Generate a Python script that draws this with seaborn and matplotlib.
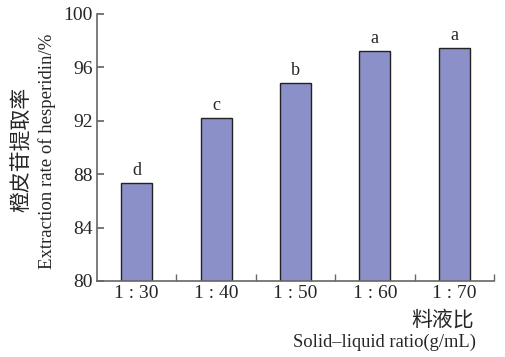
import matplotlib
matplotlib.use("Agg")
import matplotlib.pyplot as plt
import pandas as pd
import seaborn as sbn

# datos
ratios = ["1 : 30", "1 : 40", "1 : 50", "1 : 60", "1 : 70"]
tasa = [87.3, 92.2, 94.8, 97.2, 97.45]
letras = ["d", "c", "b", "a", "a"]
yticks = [80, 84, 88, 92, 96, 100]

df = pd.DataFrame({"ratio": ratios, "tasa": tasa})

sbn.set_theme(style="ticks")
plt.rcParams["font.family"] = ["Liberation Serif", "Noto Sans CJK SC"]

fig = plt.figure(figsize=(5.05, 3.57), dpi=100)
ax = fig.add_axes([0.192, 0.213, 0.786, 0.748])

sbn.barplot(data=df, x="ratio", y="tasa", color="#8B90C8", width=0.39,
            edgecolor="#222222", linewidth=1.0, saturation=1, ax=ax)

for i, (v, l) in enumerate(zip(tasa, letras)):
    ax.annotate(l, (i, v), xytext=(0, 3), textcoords="offset points",
                ha="center", va="bottom", fontsize=13)

ax.set_ylim(80, 100)
ax.set_xlim(-0.5, 4.5)
ax.set_yticks(yticks)
ax.set_xticks(range(len(ratios)))
ax.set_xticklabels(ratios)
ax.set_xticks([0.5, 1.5, 2.5, 3.5, 4.5], minor=True)
ax.tick_params(axis="x", which="major", length=0, labelsize=14, pad=3)
ax.tick_params(axis="x", which="minor", direction="in", length=5, color="#666666")
ax.tick_params(axis="y", direction="in", length=5, color="#666666", labelsize=14, pad=3)
for s in ["top", "right"]:
    ax.spines[s].set_visible(False)
for s in ["left", "bottom"]:
    ax.spines[s].set_color("#666666")
    ax.spines[s].set_linewidth(1.2)
ax.set_xlabel("")
ax.set_ylabel("")

# etiquetas de los ejes
fig.text(22 / 505, 1 - 149 / 357, "橙皮苷提取率", rotation=90, ha="center", va="center",
         fontsize=15, family=["Noto Sans CJK SC"], fontweight="light")
fig.text(47 / 505, 1 - 151 / 357, "Extraction rate of hesperidin/%", rotation=90,
         ha="center", va="center", fontsize=13.5)
fig.text(474 / 505, 1 - 320 / 357, "料液比", ha="right", va="center",
         fontsize=15, family=["Noto Sans CJK SC"], fontweight="light")
fig.text(476 / 505, 1 - 342 / 357, "Solid\u2013liquid ratio(g/mL)", ha="right",
         va="center", fontsize=13.3)

fig.savefig("out.png", dpi=100)
